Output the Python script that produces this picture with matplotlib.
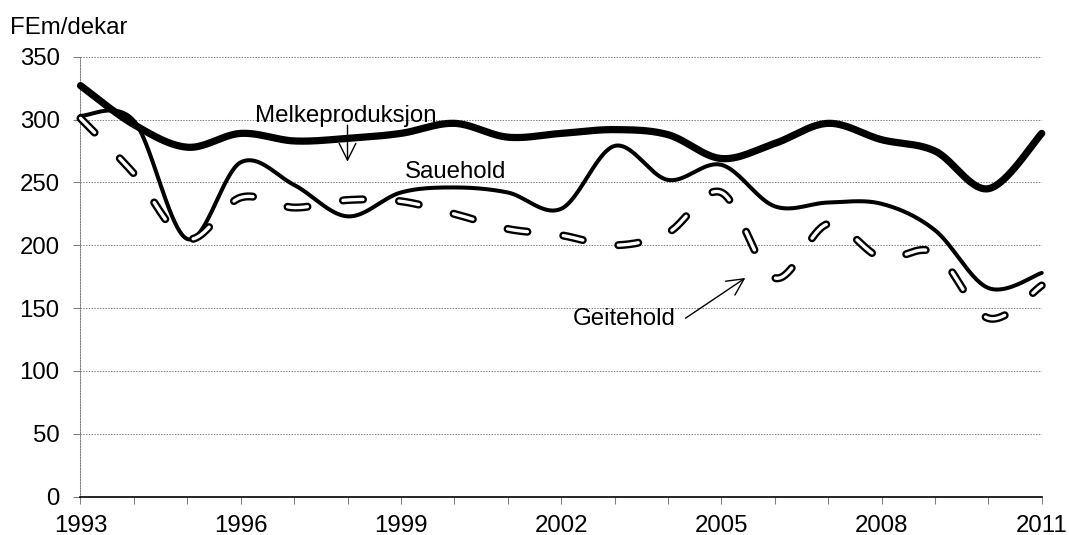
import matplotlib
matplotlib.use('Agg')
import numpy as np
import matplotlib.pyplot as plt

plt.rcParams['font.family'] = ['Liberation Sans', 'DejaVu Sans']
plt.rcParams['lines.scale_dashes'] = False

years = list(range(1993, 2012))
melk = [327, 296, 278, 289, 283, 285, 289, 297, 286, 289, 292, 288, 269, 281, 297, 284, 275, 245, 289]
saue = [303, 299, 205, 266, 248, 223, 242, 246, 242, 229, 279, 252, 264, 231, 234, 233, 212, 166, 178]
geit = [301, 257, 205, 238, 230, 236, 235, 225, 213, 208, 200, 210, 242, 174, 217, 190, 194, 142, 168]
y_ticks = [0, 50, 100, 150, 200, 250, 300, 350]
x_labels = [1993, 1996, 1999, 2002, 2005, 2008, 2011]
y_title = 'FEm/dekar'

FS = 17.3


def smooth(x, y, n=40):
    """Excel-like smoothed line: cubic Bezier through the data points."""
    P = np.column_stack([np.asarray(x, float), np.asarray(y, float)])
    Pext = np.vstack([P[0], P, P[-1]])
    t = np.linspace(0, 1, n)[:, None]
    out = []
    for i in range(len(P) - 1):
        p0, p3 = P[i], P[i + 1]
        p1 = p0 + (Pext[i + 2] - Pext[i]) / 6.0
        p2 = p3 - (Pext[i + 3] - Pext[i + 1]) / 6.0
        seg = (1 - t) ** 3 * p0 + 3 * (1 - t) ** 2 * t * p1 + 3 * (1 - t) * t ** 2 * p2 + t ** 3 * p3
        out.append(seg if i == 0 else seg[1:])
    s = np.vstack(out)
    return s[:, 0], s[:, 1]


fig = plt.figure(figsize=(10.69, 5.35), dpi=100)
ax = fig.add_axes([0.0753, 0.0716, 0.8992, 0.8224])
ax.set_xlim(1993, 2011)
ax.set_ylim(0, 350)

ax.set_yticks(y_ticks)
ax.set_xticks(x_labels)
ax.set_xticks(years, minor=True)
ax.yaxis.grid(True, linestyle=(0, (1, 1)), color='#808080', lw=0.75)
ax.set_axisbelow(True)

for s in ['top', 'right']:
    ax.spines[s].set_visible(False)
ax.spines['left'].set_linestyle((0, (1, 1)))
ax.spines['left'].set_color('#808080')
ax.spines['left'].set_linewidth(0.75)
ax.spines['bottom'].set_color('black')
ax.spines['bottom'].set_linewidth(1.2)

ax.tick_params(axis='y', which='both', length=5, width=0.75, color='#808080',
               pad=10, labelsize=FS, labelcolor='black')
ax.tick_params(axis='x', which='both', length=5, width=0.75, color='#808080',
               direction='out', pad=8, labelsize=FS, labelcolor='black')

# Melkeproduksjon
xs, ys = smooth(years, melk)
ax.plot(xs, ys, color='black', lw=5.2, solid_capstyle='round', clip_on=False, zorder=3)

# Sauehold
xs, ys = smooth(years, saue)
ax.plot(xs, ys, color='black', lw=2.9, solid_capstyle='round', clip_on=False, zorder=4)

# Geitehold (white dashes with black outline)
xs, ys = smooth(years, geit)
dash = (14.4, 26.0)
ax.plot(xs, ys, color='black', lw=5.8, dashes=dash, dash_capstyle='round',
        clip_on=False, zorder=5)
ax.plot(xs, ys, color='white', lw=2.4, dashes=dash, dash_capstyle='round',
        clip_on=False, zorder=6)

arrow = dict(arrowstyle='->,head_length=0.6,head_width=0.3', lw=1.0, color='black',
             mutation_scale=20, shrinkA=0, shrinkB=0)

ax.text(1997.97, 298, 'Melkeproduksjon', ha='center', va='baseline', fontsize=FS, zorder=7)
ax.annotate('', xy=(1998.0, 266.5), xytext=(1998.0, 295.5), arrowprops=arrow, zorder=7)

ax.text(2000.03, 253.5, 'Sauehold', ha='center', va='baseline', fontsize=FS, zorder=7)

ax.text(2003.19, 136.7, 'Geitehold', ha='center', va='baseline', fontsize=FS, zorder=7)
ax.annotate('', xy=(2005.45, 174), xytext=(2004.33, 142), arrowprops=arrow, zorder=7)

fig.text(10 / 1069, 1 - 34 / 535, y_title, ha='left', va='baseline', fontsize=FS)

fig.savefig('out.png', dpi=100)
